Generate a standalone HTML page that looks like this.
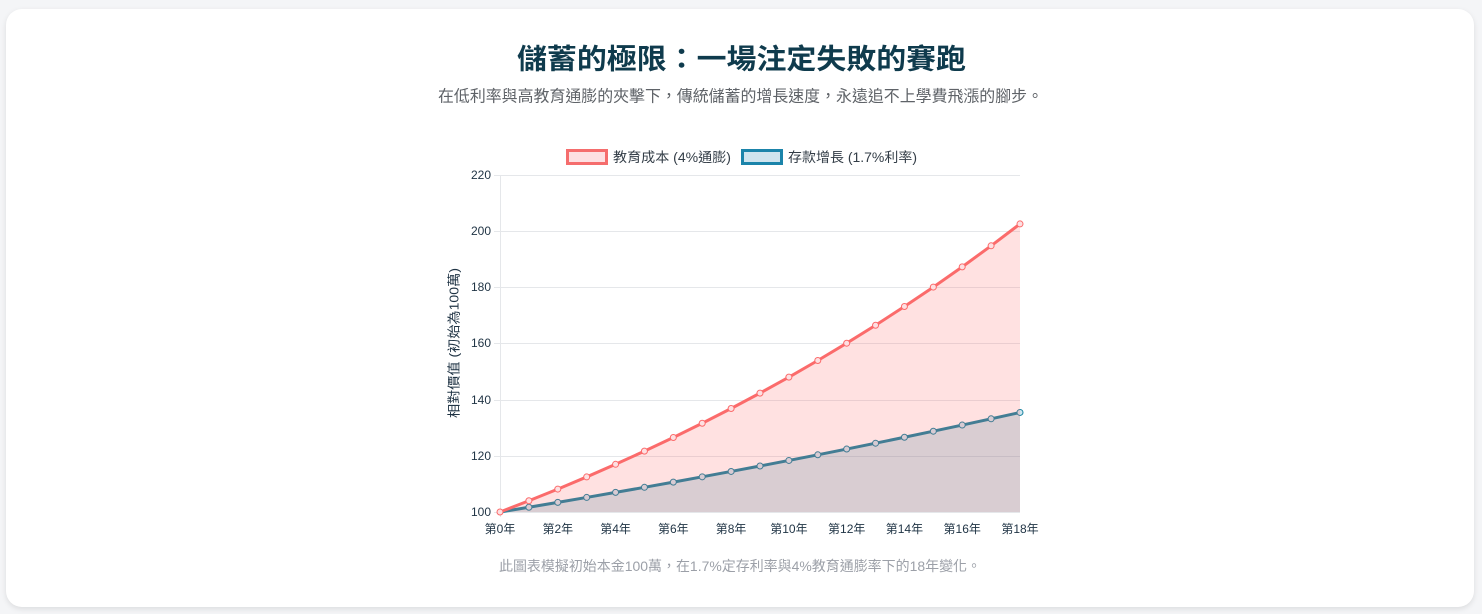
<!DOCTYPE html>
<html>
<head>
<meta charset="utf-8">
<style>
  html,body{margin:0;padding:0;width:1482px;height:614px;overflow:hidden;background:#f4f5f7;}
  .card{position:absolute;left:6px;top:9px;width:1468px;height:598px;background:#fff;border-radius:16px;box-shadow:0 2px 6px rgba(0,0,0,0.10);}
  svg{position:absolute;left:0;top:0;}
  text{font-family:"Liberation Sans","Noto Sans CJK TC",sans-serif;}
</style>
</head>
<body>
<div class="card"></div>
<svg width="1482" height="614" viewBox="0 0 1482 614" xmlns="http://www.w3.org/2000/svg">
  <!-- Title -->
  <text x="741.5" y="59" text-anchor="middle" dominant-baseline="central" font-size="28" font-weight="bold" fill="#0f3b4d" textLength="449" lengthAdjust="spacingAndGlyphs">儲蓄的極限：一場注定失敗的賽跑</text>
  <text x="740.5" y="97" text-anchor="middle" dominant-baseline="central" font-size="16" fill="#5f6368" textLength="605" lengthAdjust="spacingAndGlyphs">在低利率與高教育通膨的夾擊下，傳統儲蓄的增長速度，永遠追不上學費飛漲的腳步。</text>

  <!-- Legend -->
  <rect x="567.5" y="150.5" width="39" height="13" fill="#fde0e2" stroke="#f56d6d" stroke-width="3"/>
  <text x="613" y="157.5" dominant-baseline="central" font-size="13.5" fill="#333d47" textLength="118" lengthAdjust="spacingAndGlyphs">教育成本 (4%通膨)</text>
  <rect x="742.5" y="150.5" width="39" height="13" fill="#cfe4ee" stroke="#1b84aa" stroke-width="3"/>
  <text x="788" y="157.5" dominant-baseline="central" font-size="13.5" fill="#333d47" textLength="129" lengthAdjust="spacingAndGlyphs">存款增長 (1.7%利率)</text>

  <!-- Grid -->
  <g stroke="#e5e7ea" stroke-width="1">
    <line x1="494" y1="175.5" x2="1020" y2="175.5"/>
    <line x1="494" y1="231.5" x2="1020" y2="231.5"/>
    <line x1="494" y1="287.5" x2="1020" y2="287.5"/>
    <line x1="494" y1="343.5" x2="1020" y2="343.5"/>
    <line x1="494" y1="400.5" x2="1020" y2="400.5"/>
    <line x1="494" y1="456.5" x2="1020" y2="456.5"/>
    <line x1="494" y1="512.5" x2="1020" y2="512.5"/>
    <line x1="500.5" y1="175" x2="500.5" y2="517"/>
  </g>

  <!-- Y tick labels -->
  <g font-size="12" fill="#1f3344" text-anchor="end" dominant-baseline="central">
    <text x="491" y="175">220</text>
    <text x="491" y="231">200</text>
    <text x="491" y="287">180</text>
    <text x="491" y="343">160</text>
    <text x="491" y="400">140</text>
    <text x="491" y="456">120</text>
    <text x="491" y="512">100</text>
  </g>

  <!-- X tick labels -->
  <g font-size="12" fill="#1f3344" text-anchor="middle" dominant-baseline="central">
    <text x="500" y="529">第0年</text>
    <text x="557.8" y="529">第2年</text>
    <text x="615.6" y="529">第4年</text>
    <text x="673.3" y="529">第6年</text>
    <text x="731.1" y="529">第8年</text>
    <text x="788.9" y="529">第10年</text>
    <text x="846.7" y="529">第12年</text>
    <text x="904.4" y="529">第14年</text>
    <text x="962.2" y="529">第16年</text>
    <text x="1020" y="529">第18年</text>
  </g>

  <!-- Y axis title -->
  <text transform="translate(454,343) rotate(-90)" text-anchor="middle" dominant-baseline="central" font-size="13" fill="#1f3344" textLength="150" lengthAdjust="spacingAndGlyphs">相對價值 (初始為100萬)</text>

  <!-- Savings (drawn first, beneath) -->
  <polygon fill="rgba(20,130,165,0.2)" points="500,512 528.89,507.23 557.78,502.37 586.67,497.43 615.56,492.41 644.44,487.30 673.33,482.11 702.22,476.83 731.11,471.46 760,465.99 788.89,460.44 817.78,454.79 846.67,449.04 875.56,443.19 904.44,437.25 933.33,431.21 962.22,425.06 991.11,418.81 1020,412.45 1020,512"/>
  <polyline fill="none" stroke="#14829f" stroke-width="3" stroke-linejoin="round" points="500,512 528.89,507.23 557.78,502.37 586.67,497.43 615.56,492.41 644.44,487.30 673.33,482.11 702.22,476.83 731.11,471.46 760,465.99 788.89,460.44 817.78,454.79 846.67,449.04 875.56,443.19 904.44,437.25 933.33,431.21 962.22,425.06 991.11,418.81 1020,412.45"/>
  <g fill="#cfe4ee" stroke="#14829f" stroke-width="1">
    <circle cx="528.89" cy="507.23" r="3"/><circle cx="557.78" cy="502.37" r="3"/><circle cx="586.67" cy="497.43" r="3"/><circle cx="615.56" cy="492.41" r="3"/><circle cx="644.44" cy="487.30" r="3"/><circle cx="673.33" cy="482.11" r="3"/><circle cx="702.22" cy="476.83" r="3"/><circle cx="731.11" cy="471.46" r="3"/><circle cx="760" cy="465.99" r="3"/><circle cx="788.89" cy="460.44" r="3"/><circle cx="817.78" cy="454.79" r="3"/><circle cx="846.67" cy="449.04" r="3"/><circle cx="875.56" cy="443.19" r="3"/><circle cx="904.44" cy="437.25" r="3"/><circle cx="933.33" cy="431.21" r="3"/><circle cx="962.22" cy="425.06" r="3"/><circle cx="991.11" cy="418.81" r="3"/><circle cx="1020" cy="412.45" r="3"/>
  </g>

  <!-- Education (drawn on top) -->
  <polygon fill="rgba(255,107,107,0.2)" points="500,512 528.89,500.77 557.78,489.08 586.67,476.93 615.56,464.30 644.44,451.16 673.33,437.49 702.22,423.28 731.11,408.49 760,393.12 788.89,377.13 817.78,360.50 846.67,343.21 875.56,325.23 904.44,306.52 933.33,287.07 962.22,266.84 991.11,245.80 1020,223.92 1020,512"/>
  <polyline fill="none" stroke="#fb6b6b" stroke-width="3" stroke-linejoin="round" points="500,512 528.89,500.77 557.78,489.08 586.67,476.93 615.56,464.30 644.44,451.16 673.33,437.49 702.22,423.28 731.11,408.49 760,393.12 788.89,377.13 817.78,360.50 846.67,343.21 875.56,325.23 904.44,306.52 933.33,287.07 962.22,266.84 991.11,245.80 1020,223.92"/>
  <g fill="#fde0e2" stroke="#fb6b6b" stroke-width="1">
    <circle cx="500" cy="512" r="3"/><circle cx="528.89" cy="500.77" r="3"/><circle cx="557.78" cy="489.08" r="3"/><circle cx="586.67" cy="476.93" r="3"/><circle cx="615.56" cy="464.30" r="3"/><circle cx="644.44" cy="451.16" r="3"/><circle cx="673.33" cy="437.49" r="3"/><circle cx="702.22" cy="423.28" r="3"/><circle cx="731.11" cy="408.49" r="3"/><circle cx="760" cy="393.12" r="3"/><circle cx="788.89" cy="377.13" r="3"/><circle cx="817.78" cy="360.50" r="3"/><circle cx="846.67" cy="343.21" r="3"/><circle cx="875.56" cy="325.23" r="3"/><circle cx="904.44" cy="306.52" r="3"/><circle cx="933.33" cy="287.07" r="3"/><circle cx="962.22" cy="266.84" r="3"/><circle cx="991.11" cy="245.80" r="3"/><circle cx="1020" cy="223.92" r="3"/>
  </g>

  <!-- Footnote -->
  <text x="740" y="566" text-anchor="middle" dominant-baseline="central" font-size="14" fill="#9ca0a8" textLength="482" lengthAdjust="spacingAndGlyphs">此圖表模擬初始本金100萬，在1.7%定存利率與4%教育通膨率下的18年變化。</text>
</svg>
</body>
</html>
